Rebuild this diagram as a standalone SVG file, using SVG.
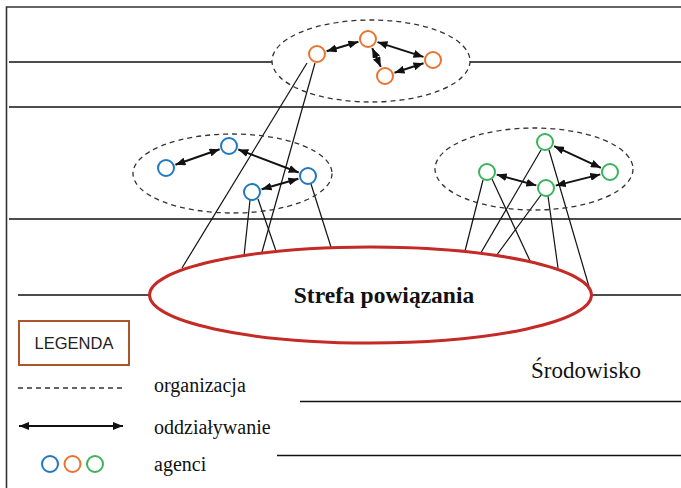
<svg xmlns="http://www.w3.org/2000/svg" width="681" height="488" viewBox="0 0 681 488">
<style>
.bg{fill:#ffffff}
.frame{stroke:#333333;stroke-width:1.6;fill:none}
.hl{stroke:#111111;stroke-width:1.5;fill:none}
.org{fill:none;stroke:#333333;stroke-width:1.3;stroke-dasharray:5 4}
.ag{fill:#ffffff;stroke-width:2}
.ag-o{stroke:#e8742e}
.ag-b{stroke:#1f78c1}
.ag-g{stroke:#3cb35a}
.inter{stroke:#111111;stroke-width:2;marker-start:url(#ah);marker-end:url(#ah)}
.link{stroke:#111111;stroke-width:1.2}
.zone{fill:#ffffff;stroke:#c42a26;stroke-width:3}
.serif{font-family:'Liberation Serif','DejaVu Serif','Times New Roman',serif;fill:#111111}
.sans{font-family:'Liberation Sans',Arial,sans-serif;fill:#222222}
</style>
<defs>
<marker id="ah" viewBox="0 0 10 8" refX="10" refY="4" markerWidth="10" markerHeight="8" markerUnits="userSpaceOnUse" orient="auto-start-reverse">
<path d="M0,0 L10,4 L0,8 z" fill="#111111"/>
</marker>
</defs>
<rect class="bg" x="0" y="0" width="681" height="488"/>
<g id="environment">
<path class="frame" d="M6.5,488 V7 H681"/>
<line class="hl" x1="9" y1="62" x2="272" y2="62"/>
<line class="hl" x1="470" y1="62" x2="681" y2="62"/>
<line class="hl" x1="9" y1="107" x2="681" y2="107"/>
<line class="hl" x1="9" y1="219" x2="681" y2="219"/>
<line class="hl" x1="18" y1="295" x2="150" y2="295"/>
<line class="hl" x1="591" y1="295" x2="681" y2="295"/>
<line class="hl" x1="300" y1="401.5" x2="681" y2="401.5"/>
<line class="hl" x1="277" y1="455.5" x2="681" y2="455.5"/>
<text class="serif" x="531" y="378" font-size="23" font-family="Liberation Serif, DejaVu Serif, serif">Środowisko</text>
</g>
<g id="connectors">
<line class="link" x1="307" y1="63" x2="182" y2="268"/>
<line class="link" x1="315" y1="63" x2="262" y2="252"/>
<line class="link" x1="250" y1="200" x2="244" y2="256"/>
<line class="link" x1="258" y1="199" x2="276" y2="251"/>
<line class="link" x1="311" y1="184" x2="331" y2="247"/>
<line class="link" x1="483" y1="180" x2="465" y2="251"/>
<line class="link" x1="492" y1="179" x2="531" y2="263"/>
<line class="link" x1="541" y1="150" x2="479" y2="256"/>
<line class="link" x1="549" y1="150" x2="590" y2="290"/>
<line class="link" x1="541" y1="195" x2="496" y2="256"/>
<line class="link" x1="548" y1="196" x2="558" y2="268"/>
<line class="inter" x1="326.6" y1="51.2" x2="358.4" y2="41.8"/>
<line class="inter" x1="377.5" y1="42.1" x2="423.5" y2="56.9"/>
<line class="inter" x1="372.2" y1="48.1" x2="380.8" y2="66.9"/>
<line class="inter" x1="394.5" y1="72.8" x2="423.5" y2="63.2"/>
<line class="inter" x1="175.4" y1="164.7" x2="219.6" y2="149.3"/>
<line class="inter" x1="238.3" y1="149.5" x2="298.7" y2="172.5"/>
<line class="inter" x1="261.6" y1="189.3" x2="298.4" y2="178.7"/>
<line class="inter" x1="496.7" y1="174.6" x2="536.3" y2="185.4"/>
<line class="inter" x1="554.1" y1="146.2" x2="600.9" y2="167.8"/>
<line class="inter" x1="555.7" y1="185.6" x2="600.3" y2="174.4"/>
</g>
<g id="org-orange">
<ellipse class="org" cx="371" cy="61" rx="99" ry="41"/>
<circle class="ag ag-o" cx="317" cy="54" r="8"/>
<circle class="ag ag-o" cx="368" cy="39" r="8"/>
<circle class="ag ag-o" cx="433" cy="60" r="8"/>
<circle class="ag ag-o" cx="385" cy="76" r="8"/>
</g>
<g id="org-blue">
<ellipse class="org" cx="232.5" cy="173.5" rx="99.5" ry="39.5"/>
<circle class="ag ag-b" cx="166" cy="168" r="8"/>
<circle class="ag ag-b" cx="229" cy="146" r="8"/>
<circle class="ag ag-b" cx="308" cy="176" r="8"/>
<circle class="ag ag-b" cx="252" cy="192" r="8"/>
</g>
<g id="org-green">
<ellipse class="org" cx="534" cy="169" rx="99" ry="41"/>
<circle class="ag ag-g" cx="545" cy="142" r="8"/>
<circle class="ag ag-g" cx="487" cy="172" r="8"/>
<circle class="ag ag-g" cx="546" cy="188" r="8"/>
<circle class="ag ag-g" cx="610" cy="172" r="8"/>
</g>
<g id="zone">
<ellipse class="zone" cx="370.5" cy="295" rx="221" ry="48"/>
<text class="serif" x="384" y="303" font-size="23.5" font-weight="bold" text-anchor="middle" font-family="Liberation Serif, DejaVu Serif, serif">Strefa powiązania</text>
</g>
<g id="legend">
<rect x="19" y="321" width="110" height="44" fill="#ffffff" stroke="#a8562a" stroke-width="2"/>
<text class="sans" x="74" y="349" font-size="16.5" text-anchor="middle">LEGENDA</text>
<line class="org" x1="18" y1="388" x2="123" y2="388"/>
<text class="serif" x="154" y="392" font-size="20" font-family="Liberation Serif, DejaVu Serif, serif">organizacja</text>
<line class="inter" x1="19" y1="426" x2="123" y2="426"/>
<text class="serif" x="154" y="434" font-size="20" font-family="Liberation Serif, DejaVu Serif, serif">oddziaływanie</text>
<circle class="ag ag-b" cx="50" cy="464" r="8"/>
<circle class="ag ag-o" cx="72.5" cy="464" r="8"/>
<circle class="ag ag-g" cx="95" cy="464" r="8"/>
<text class="serif" x="154" y="471" font-size="20" font-family="Liberation Serif, DejaVu Serif, serif">agenci</text>
</g>
</svg>
